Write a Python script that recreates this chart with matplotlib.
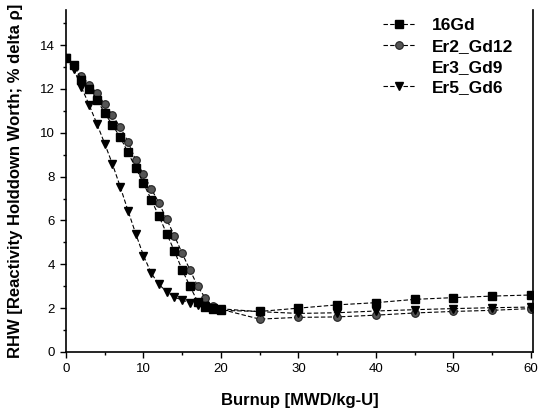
import matplotlib
matplotlib.use("Agg")
import matplotlib.pyplot as plt
from matplotlib.lines import Line2D
from matplotlib.ticker import MultipleLocator

burnup = [0, 1, 2, 3, 4, 5, 6, 7, 8, 9, 10, 11, 12, 13, 14, 15, 16, 17, 18, 19, 20,
          25, 30, 35, 40, 45, 50, 55, 60]

gd16 = [13.4, 13.1, 12.4, 12.0, 11.5, 10.9, 10.35, 9.8, 9.1, 8.4, 7.7, 6.95, 6.2, 5.4,
        4.6, 3.75, 3.0, 2.3, 2.05, 1.95, 1.9,
        1.85, 2.0, 2.15, 2.25, 2.4, 2.48, 2.55, 2.6]

er2_gd12 = [13.4, 13.1, 12.6, 12.2, 11.8, 11.3, 10.8, 10.25, 9.6, 8.75, 8.1, 7.45, 6.8,
            6.05, 5.3, 4.5, 3.75, 3.0, 2.45, 2.1, 1.95,
            1.5, 1.58, 1.6, 1.68, 1.78, 1.85, 1.9, 1.98]

er5_gd6 = [13.4, 12.9, 12.07, 11.26, 10.4, 9.5, 8.57, 7.54, 6.45, 5.4, 4.4, 3.6, 3.08,
           2.75, 2.5, 2.37, 2.25, 2.15, 2.08, 2.0, 1.97,
           1.84, 1.76, 1.79, 1.87, 1.93, 1.98, 2.02, 2.05]

labels = ["16Gd", "Er2_Gd12", "Er3_Gd9", "Er5_Gd6"]

plt.rcParams['font.family'] = ['Liberation Sans', 'DejaVu Sans']

W, H = 543, 409
fig = plt.figure(figsize=(W / 100, H / 100), dpi=100)
ax = fig.add_axes([66 / W, 1 - 352 / H, (533 - 66) / W, (352 - 10) / H])

ls = (0, (4, 2))
l1, = ax.plot(burnup, gd16, color='k', lw=0.8, ls=ls, marker='s', ms=5.2,
              mfc='k', mec='k', zorder=3)
l2, = ax.plot(burnup, er2_gd12, color='k', lw=0.8, ls=ls, marker='o', ms=5.5,
              mfc='#555555', mec='#222222', mew=0.8, zorder=2)
l4, = ax.plot(burnup, er5_gd6, color='k', lw=0.8, ls=ls, marker='v', ms=6,
              mfc='k', mec='k', zorder=4)
l3 = Line2D([], [], color='none', marker='None', ls='None')

ax.set_xlim(0, 60.3)
ax.set_ylim(0, 15.6)
ax.xaxis.set_major_locator(MultipleLocator(10))
ax.xaxis.set_minor_locator(MultipleLocator(5))
ax.yaxis.set_major_locator(MultipleLocator(2))
ax.yaxis.set_minor_locator(MultipleLocator(1))
ax.tick_params(which='both', direction='out', top=False, right=False,
               width=1.0, labelsize=9.5)
ax.tick_params(which='major', length=4.5)
ax.tick_params(which='minor', length=2.5)
ax.spines['top'].set_visible(False)
for s in ['left', 'bottom', 'right']:
    ax.spines[s].set_linewidth(1.2)

ax.set_xlabel("Burnup [MWD/kg-U]", fontsize=12, fontweight='bold', labelpad=13)
fig.text(16 / W, 1 - 181 / H, "RHW [Reactivity Holddown Worth; % delta \u03c1]",
         rotation=90, fontsize=12, fontweight='bold', ha='center', va='center')

leg = fig.legend([l1, l2, l3, l4], labels, loc='upper left', frameon=False,
                 prop={'weight': 'bold', 'size': 12.5}, handlelength=1.9,
                 labelspacing=0.32, handletextpad=0.92, borderpad=0,
                 borderaxespad=0, bbox_to_anchor=(383 / W, 1 - 18 / H))

fig.savefig("out.png", dpi=100)
